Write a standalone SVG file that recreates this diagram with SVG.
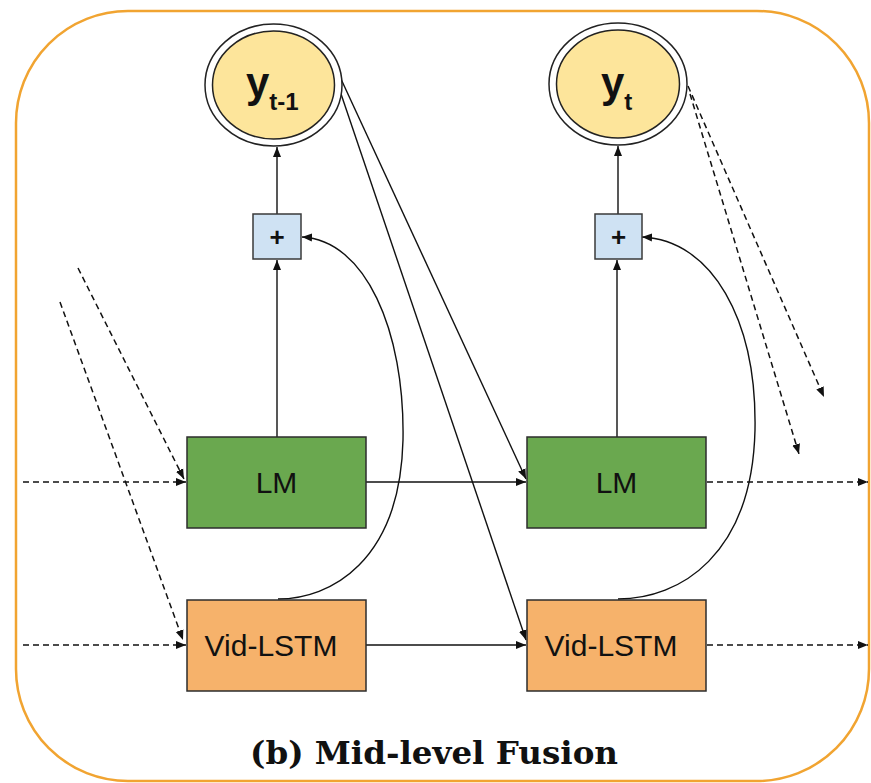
<svg xmlns="http://www.w3.org/2000/svg" width="871" height="783" viewBox="0 0 871 783">
<style>
.frame{fill:#fff;stroke:#f1a431;stroke-width:2.5}
.ell-out{fill:#fff;stroke:#222;stroke-width:1.5}
.ell-in{fill:#fde59b;stroke:#222;stroke-width:1.5}
.plus{fill:#cfe2f3;stroke:#3a3a3a;stroke-width:1.5}
.lm{fill:#6aa84f;stroke:#2d2d2d;stroke-width:1.5}
.vid{fill:#f6b26b;stroke:#2d2d2d;stroke-width:1.5}
.lbl{font-family:"Liberation Sans",Arial,sans-serif;font-size:30px;fill:#111;text-anchor:middle}
.yv{font-family:"Liberation Sans",Arial,sans-serif;font-weight:bold;fill:#111}
.pl{font-family:"Liberation Sans",Arial,sans-serif;font-weight:bold;font-size:26px;fill:#111;text-anchor:middle}
.c{fill:none;stroke:#111;stroke-width:1.4}
.d{fill:none;stroke:#111;stroke-width:1.5;stroke-dasharray:6 4}
.title{font-family:"DejaVu Serif",serif;font-weight:bold;font-size:31px;fill:#111}
</style>
<defs>
<marker id="ah" viewBox="0 0 10 10" refX="10" refY="5" markerWidth="10" markerHeight="10" markerUnits="userSpaceOnUse" orient="auto">
<path d="M0,1 L10,5 L0,9 z" fill="#111"/>
</marker>
</defs>
<rect class="frame" x="16" y="11" width="853" height="770" rx="112" ry="112"/>

<g id="connectors">
<line class="c" x1="277" y1="437" x2="277" y2="260" marker-end="url(#ah)"/>
<line class="c" x1="277" y1="214" x2="277" y2="147" marker-end="url(#ah)"/>
<line class="c" x1="617" y1="437" x2="617" y2="260" marker-end="url(#ah)"/>
<line class="c" x1="618" y1="214" x2="618" y2="146" marker-end="url(#ah)"/>
<line class="c" x1="366" y1="482" x2="526" y2="482" marker-end="url(#ah)"/>
<line class="c" x1="366" y1="645" x2="526" y2="645" marker-end="url(#ah)"/>
<line class="c" x1="341" y1="79" x2="526" y2="479" marker-end="url(#ah)"/>
<line class="c" x1="339" y1="88" x2="526" y2="640" marker-end="url(#ah)"/>
<path class="c" d="M278 599 C330 599 400 562 403 440 C405 330 365 240 302 237" marker-end="url(#ah)"/>
<path class="c" d="M618 599 C680 599 752 555 755 430 C757 320 712 240 642 237" marker-end="url(#ah)"/>
<line class="d" x1="23" y1="482" x2="186" y2="482" marker-end="url(#ah)"/>
<line class="d" x1="23" y1="645" x2="186" y2="645" marker-end="url(#ah)"/>
<line class="d" x1="78" y1="268" x2="184" y2="479" marker-end="url(#ah)"/>
<line class="d" x1="60" y1="302" x2="183" y2="640" marker-end="url(#ah)"/>
<line class="d" x1="707" y1="482" x2="868" y2="482" marker-end="url(#ah)"/>
<line class="d" x1="707" y1="645" x2="868" y2="645" marker-end="url(#ah)"/>
<line class="d" x1="688" y1="86" x2="824" y2="397" marker-end="url(#ah)"/>
<line class="d" x1="690" y1="94" x2="799" y2="454" marker-end="url(#ah)"/>
</g>

<g id="y_t-1">
<ellipse class="ell-out" cx="273.5" cy="85" rx="68.5" ry="61"/>
<ellipse class="ell-in" cx="273.5" cy="85" rx="61" ry="54"/>
<text class="yv" x="246" y="97" font-size="42">y<tspan font-size="24" dy="13">t-1</tspan></text>
</g>
<g id="y_t">
<ellipse class="ell-out" cx="618" cy="84" rx="69" ry="61"/>
<ellipse class="ell-in" cx="618" cy="84" rx="61.5" ry="54"/>
<text class="yv" x="601" y="97" font-size="42">y<tspan font-size="24" dy="13">t</tspan></text>
</g>
<g id="plus1">
<rect class="plus" x="253" y="214" width="48" height="45"/>
<text class="pl" x="277" y="246">+</text>
</g>
<g id="plus2">
<rect class="plus" x="595" y="214" width="47" height="45"/>
<text class="pl" x="618.5" y="246">+</text>
</g>
<g id="lm1">
<rect class="lm" x="187" y="437" width="179" height="91"/>
<text class="lbl" x="276.5" y="493">LM</text>
</g>
<g id="lm2">
<rect class="lm" x="527" y="437" width="179" height="91"/>
<text class="lbl" x="616.5" y="493">LM</text>
</g>
<g id="vid1">
<rect class="vid" x="187" y="600" width="179" height="91"/>
<text class="lbl" x="271" y="656">Vid-LSTM</text>
</g>
<g id="vid2">
<rect class="vid" x="527" y="600" width="179" height="91"/>
<text class="lbl" x="611" y="656">Vid-LSTM</text>
</g>
<text class="title" x="250" y="764" textLength="368" lengthAdjust="spacingAndGlyphs">(b) Mid-level Fusion</text>
</svg>
